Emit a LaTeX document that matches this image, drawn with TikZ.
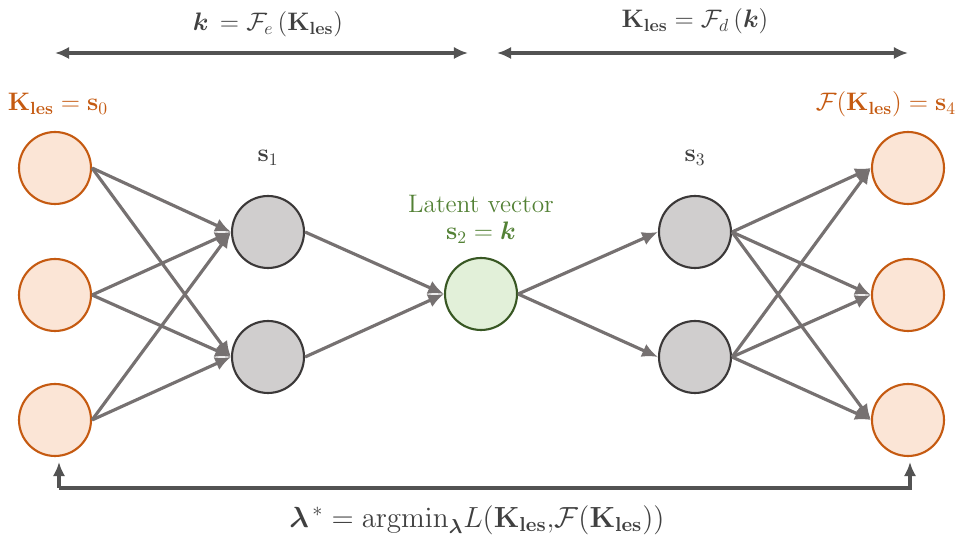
\documentclass[tikz,border=0pt]{standalone}
\usepackage{amsmath,bm}
\usetikzlibrary{arrows.meta}
\definecolor{inorange}{HTML}{C55A11}
\definecolor{infill}{HTML}{FBE5D6}
\definecolor{hidfill}{HTML}{D0CECE}
\definecolor{hidline}{HTML}{3B3838}
\definecolor{latfill}{HTML}{E2F0D9}
\definecolor{latline}{HTML}{385723}
\definecolor{lattext}{HTML}{538135}
\definecolor{edgegray}{HTML}{767171}
\definecolor{textgray}{HTML}{404040}
\newcommand{\Kles}{\mathbf{K}_{\mathbf{les}}}
\begin{document}
\begin{tikzpicture}[x=.02cm,y=-.02cm,font=\Large,text=textgray,
  unit/.style={circle,minimum size=1.44cm,inner sep=0pt,line width=1.2pt},
  inunit/.style={unit,draw=inorange,fill=infill},
  hidunit/.style={unit,draw=hidline,fill=hidfill},
  latunit/.style={unit,draw=latline,fill=latfill},
  link/.style={draw=edgegray,line width=1.8pt,-{Latex[length=9pt,width=8pt]}},
  span/.style={draw=textgray!90,line width=1.8pt,{Latex[length=8pt,width=7pt]}-{Latex[length=8pt,width=7pt]}}]
\useasboundingbox(0,0)rectangle(958,540);
% layers
\foreach \i/\y in {1/168,2/295,3/420}{\node[inunit](x\i)at(55,\y){};\node[inunit](y\i)at(908,\y){};}
\foreach \i/\y in {1/232,2/357}{\node[hidunit](h\i)at(268,\y){};\node[hidunit](g\i)at(695,\y){};}
\node[latunit](z)at(481,294){};
% connections
\foreach \i in {1,2,3}{\foreach \j in {1,2}{\draw[link](x\i.east)--(h\j.west);\draw[link](g\j.east)--(y\i.west);}}
\foreach \j in {1,2}{\draw[link](h\j.east)--(z.west);\draw[link](z.east)--(g\j.west);}
% labels
\node[text=inorange](lin)at(58,104){$\Kles=\mathbf{s}_0$};
\node[text=inorange](lout)at(886,104){$\mathcal{F}(\Kles)=\mathbf{s}_4$};
\node(ls1)at(268,158){$\mathbf{s}_1$};
\node(ls3)at(695,158){$\mathbf{s}_3$};
\node[text=lattext](llat)at(481,204){Latent vector};
\node[text=lattext](ls2)at(481,233){$\mathbf{s}_2=\bm{k}$};
% encoder / decoder spans
\coordinate(ea)at(55,53);\coordinate(eb)at(468,53);
\coordinate(da)at(497,53);\coordinate(db)at(908,53);
\draw[span](ea)--(eb);\draw[span](da)--(db);
\node(lenc)at(268,24){$\bm{k}\,=\mathcal{F}_e\,(\Kles)$};
\node(ldec)at(695,21){$\Kles=\mathcal{F}_d\,(\bm{k})$};
% loss loop
\coordinate(ba)at(59,488);\coordinate(bb)at(910,488);
\draw[draw=textgray!90,line width=1.8pt,-{Latex[length=8pt,width=7pt]}](ba)--(bb)--(910,462);
\draw[draw=textgray!90,line width=1.8pt,-{Latex[length=8pt,width=7pt]}](ba)--(59,462);
\node[scale=1.15](lloss)at(477,520){$\bm{\lambda}^{\,*}=\mathrm{argmin}_{\bm{\lambda}}L(\Kles{,}\mathcal{F}(\Kles))$};
\end{tikzpicture}
\end{document}
